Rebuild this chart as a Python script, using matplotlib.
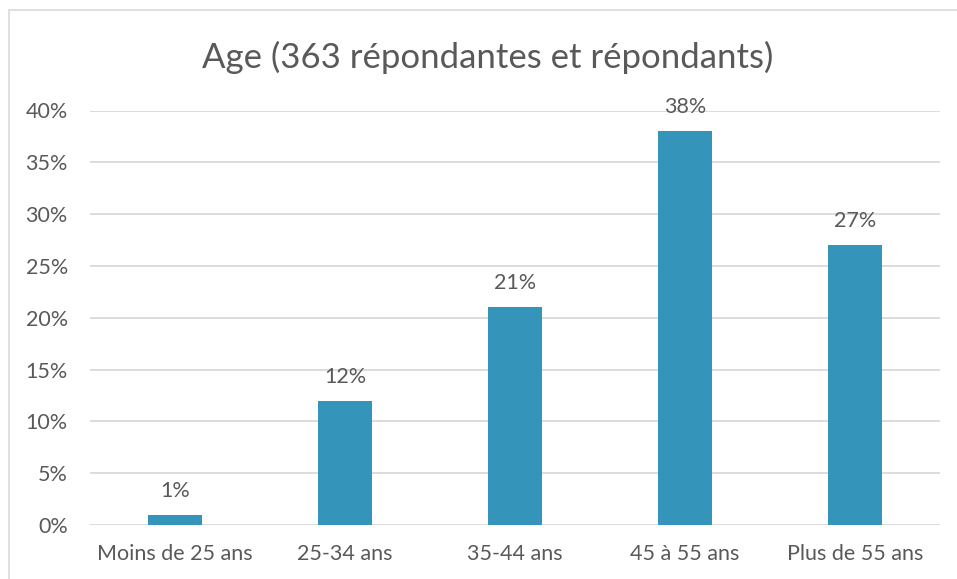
import matplotlib.pyplot as plt
from matplotlib.patches import Rectangle
from matplotlib.ticker import FuncFormatter

categories = ["Moins de 25 ans", "25-34 ans", "35-44 ans", "45 à 55 ans", "Plus de 55 ans"]
values = [1, 12, 21, 38, 27]
title = "Age (363 répondantes et répondants)"

plt.rcParams['font.family'] = ['Lato', 'DejaVu Sans']
txt = '#595959'

fig = plt.figure(figsize=(9.57, 5.79), dpi=100)
# chart border, cut by the image on the right and bottom
fig.patches.append(Rectangle((9 / 957, -0.2), 1.5, 1.2 - 11 / 579 + 0.001,
                             transform=fig.transFigure, fill=False,
                             edgecolor='#D9D9D9', lw=1.2))

ax = fig.add_axes([90 / 957, 1 - 525 / 579, 850 / 957, (525 - 110.5) / 579])
x = range(len(categories))
bars = ax.bar(x, values, width=0.32, color='#3494BA', zorder=3)
for i, v in enumerate(values):
    ax.annotate(f"{v}%", (i, v), xytext=(0, 10), textcoords='offset points',
                ha='center', va='bottom', fontsize=15.5, color=txt)

ax.set_xlim(-0.5, len(categories) - 0.5)
ax.set_ylim(0, 40)
ax.set_yticks(range(0, 41, 5))
ax.yaxis.set_major_formatter(FuncFormatter(lambda v, p: f"{v:.0f}%"))
ax.set_xticks(list(x))
ax.set_xticklabels(categories)
ax.tick_params(axis='both', length=0, labelsize=15.5, colors=txt)
ax.tick_params(axis='y', pad=16)
ax.tick_params(axis='x', pad=14)
ax.grid(axis='y', color='#D9D9D9', lw=1.3, zorder=0)
for s in ax.spines.values():
    s.set_visible(False)

fig.text(488 / 957, 1 - 57 / 579, title, ha='center', va='center',
         fontsize=25, color=txt)

fig.savefig("out.png", dpi=100)
